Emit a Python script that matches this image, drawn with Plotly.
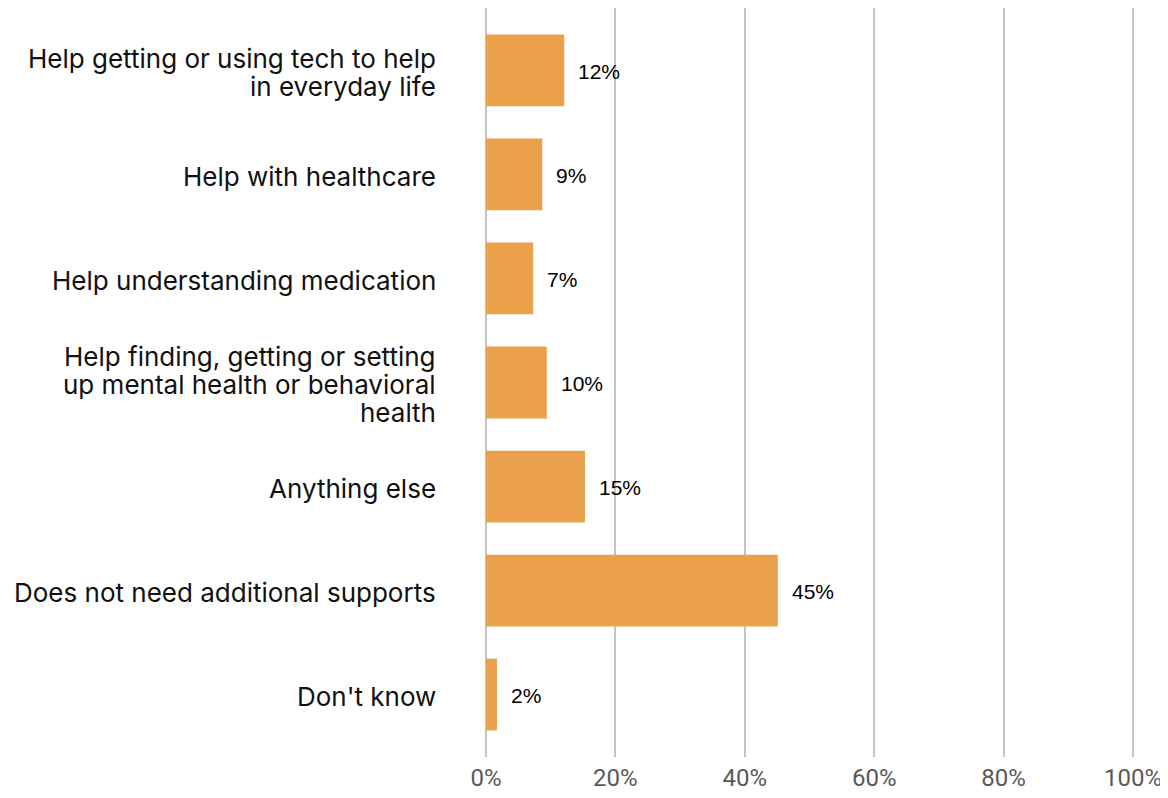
import plotly.graph_objects as go

categories = [
    "Help getting or using tech to help<br>in everyday life",
    "Help with healthcare",
    "Help understanding medication",
    "Help finding, getting or setting<br>up mental health or behavioral<br>health",
    "Anything else",
    "Does not need additional supports",
    "Don't know",
]
values = [12.1, 8.7, 7.3, 9.4, 15.3, 45.1, 1.7]
labels = ["12%", "9%", "7%", "10%", "15%", "45%", "2%"]
tick_vals = [0, 20, 40, 60, 80, 100]
tick_text = ["0%", "20%", "40%", "60%", "80%", "100%"]

LINE_H = 28

fig = go.Figure()
fig.add_trace(go.Bar(
    x=values, y=categories, orientation="h",
    marker=dict(color="#EBA04C", line=dict(width=0)),
    hoverinfo="skip",
))
for c, v, t in zip(categories, values, labels):
    fig.add_annotation(x=v, y=c, text=t, showarrow=False, xanchor="left",
                       xshift=12, yshift=-1,
                       font=dict(family="Liberation Sans", size=21, color="#000000"))
    lines = c.split("<br>")
    n = len(lines)
    for i, ln in enumerate(lines):
        fig.add_annotation(x=0, xref="paper", y=c, text=ln, showarrow=False,
                           xanchor="right", yanchor="middle", xshift=-46,
                           yshift=((n - 1) / 2 - i) * LINE_H - 2,
                           font=dict(family="Inter", size=26, color="#111111"))

fig.update_layout(
    width=1156, height=788,
    margin=dict(l=476, r=29, t=0, b=39, autoexpand=False),
    paper_bgcolor="white", plot_bgcolor="white",
    bargap=0.31, showlegend=False,
    xaxis=dict(range=[-0.3, 100.3], tickvals=tick_vals, ticktext=tick_text,
               showgrid=True, gridcolor="#C4C4C4", gridwidth=2, zeroline=False,
               showline=False, ticks="", ticklabelstandoff=4,
               ticklabeloverflow="allow", automargin=False,
               tickfont=dict(family="Roboto", size=24, color="#595959")),
    yaxis=dict(range=[6.6, -0.6], autorange=False, showgrid=False, zeroline=False,
               showline=False, ticks="", showticklabels=False, automargin=False),
)
fig.write_html("out.html")
